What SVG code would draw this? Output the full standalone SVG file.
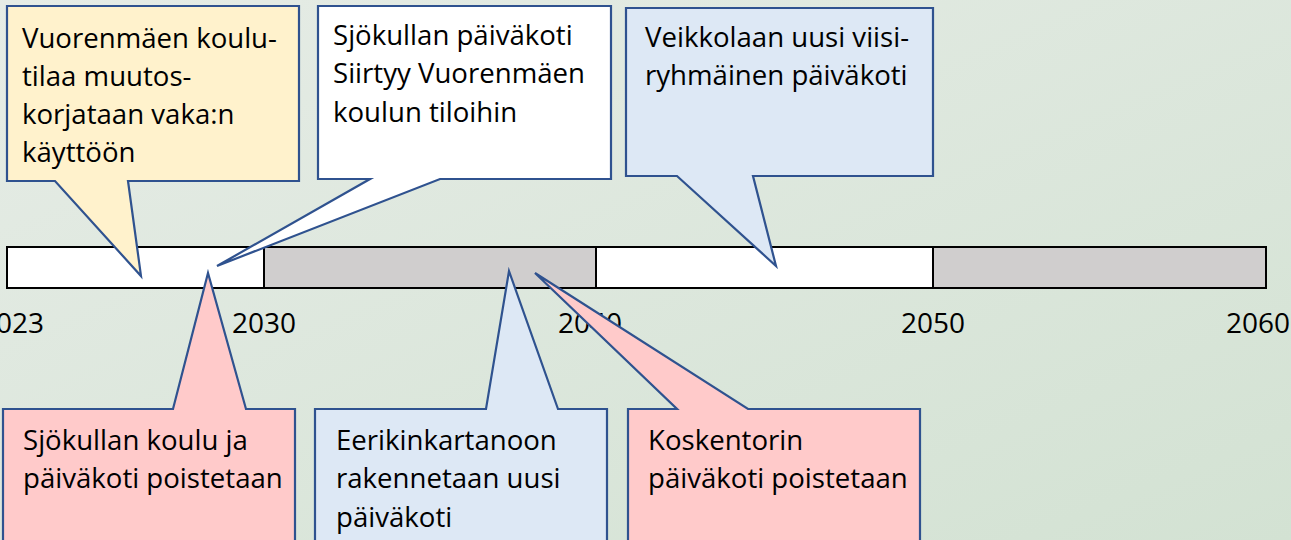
<svg xmlns="http://www.w3.org/2000/svg" width="1291" height="540" viewBox="0 0 1291 540">
<defs>
<linearGradient id="bg" x1="0" y1="0" x2="1" y2="1">
<stop offset="0" stop-color="#e6ece6"/>
<stop offset="1" stop-color="#d3e2d3"/>
</linearGradient>
<style>
.co{stroke:#2f528f;stroke-width:2.2;stroke-linejoin:miter}
.t{font-family:"Open Sans","Liberation Sans",sans-serif;font-size:27.6px;fill:#000}
.yr{font-family:"Open Sans","Liberation Sans",sans-serif;font-size:28px;fill:#000;text-anchor:middle}
.seg{stroke:#000;stroke-width:2}
</style>
</defs>
<rect x="0" y="0" width="1291" height="540" fill="url(#bg)"/>
<g id="timeline">
<rect class="seg" x="7" y="247" width="257" height="41" fill="#ffffff"/>
<rect class="seg" x="264" y="247" width="332" height="41" fill="#d0cece"/>
<rect class="seg" x="596" y="247" width="337" height="41" fill="#ffffff"/>
<rect class="seg" x="933" y="247" width="333" height="41" fill="#d0cece"/>
<text class="yr" x="12" y="333">2023</text>
<text class="yr" x="264" y="333">2030</text>
<text class="yr" x="590" y="333">2040</text>
<text class="yr" x="933" y="333">2050</text>
<text class="yr" x="1258" y="333">2060</text>
</g>
<g id="c1">
<path class="co" fill="#fff2cc" d="M7,6 H299 V181 H128 L141,276 L55,181 H7 Z"/>
<text class="t" x="22" y="48">Vuorenmäen koulu-</text>
<text class="t" x="22" y="86">tilaa muutos-</text>
<text class="t" x="22" y="124">korjataan vaka:n</text>
<text class="t" x="22" y="162">käyttöön</text>
</g>
<g id="c2">
<path class="co" fill="#ffffff" d="M318,6 H611 V179 H440 L217,266 L370,179 H318 Z"/>
<text class="t" x="333" y="45">Sjökullan päiväkoti</text>
<text class="t" x="333" y="83">Siirtyy Vuorenmäen</text>
<text class="t" x="333" y="122">koulun tiloihin</text>
</g>
<g id="c3">
<path class="co" fill="#dde8f5" d="M626,8 H933 V176 H753 L776,266 L677,176 H626 Z"/>
<text class="t" x="645" y="47">Veikkolaan uusi viisi-</text>
<text class="t" x="645" y="85">ryhmäinen päiväkoti</text>
</g>
<g id="c4">
<path class="co" fill="#ffcaca" d="M3,409 H173 L208,273 L246,409 H295 V560 H3 Z"/>
<text class="t" x="23" y="450">Sjökullan koulu ja</text>
<text class="t" x="23" y="488">päiväkoti poistetaan</text>
</g>
<g id="c5">
<path class="co" fill="#dde8f5" d="M315,409 H486 L509,271 L558,409 H607 V560 H315 Z"/>
<text class="t" x="336" y="450">Eerikinkartanoon</text>
<text class="t" x="336" y="488">rakennetaan uusi</text>
<text class="t" x="336" y="527">päiväkoti</text>
</g>
<g id="c6">
<path class="co" fill="#ffcaca" d="M628,409 H677 L535,273 L748,409 H920 V560 H628 Z"/>
<text class="t" x="648" y="450">Koskentorin</text>
<text class="t" x="648" y="488">päiväkoti poistetaan</text>
</g>
<g id="connectors"/>
</svg>
